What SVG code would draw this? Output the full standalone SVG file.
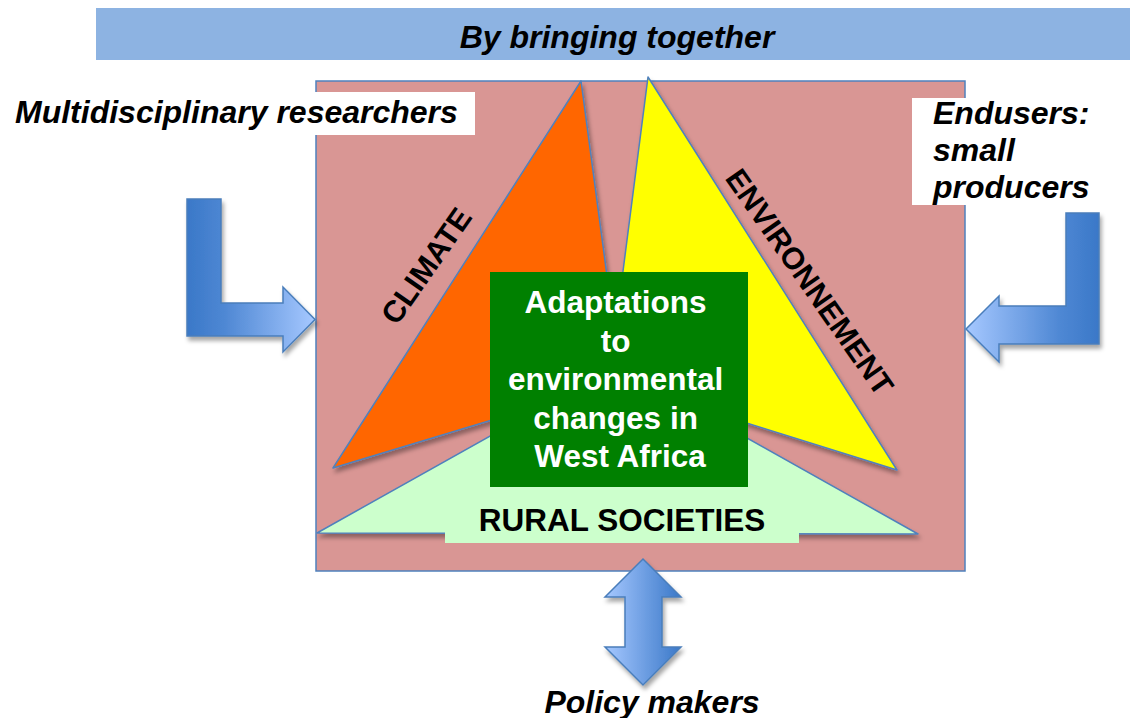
<svg xmlns="http://www.w3.org/2000/svg" width="1130" height="718" viewBox="0 0 1130 718">
<style>
.lbl{font-family:"Liberation Sans",Arial,sans-serif;font-weight:bold;font-style:italic;font-size:32px;fill:#000}
.cap{font-family:"Liberation Sans",Arial,sans-serif;font-weight:bold;font-size:30.5px;fill:#000}
.ctr{font-family:"Liberation Sans",Arial,sans-serif;font-weight:bold;font-size:31.5px;fill:#fff}
.tri{stroke:#4f81bd;stroke-width:1.5;stroke-linejoin:round}
.arr{stroke:#4a7ebb;stroke-width:1.5;stroke-linejoin:miter}
</style>
<defs>
<filter id="sh" x="-10%" y="-10%" width="130%" height="130%">
<feDropShadow dx="2" dy="4" stdDeviation="2" flood-color="#000" flood-opacity="0.35"/>
</filter>
<linearGradient id="gL" x1="0" y1="0" x2="1" y2="0">
<stop offset="0" stop-color="#3a78c8"/><stop offset="0.3" stop-color="#4f88d4"/><stop offset="1" stop-color="#a6c8ff"/>
</linearGradient>
<linearGradient id="gR" x1="1" y1="0" x2="0" y2="0">
<stop offset="0" stop-color="#3a78c8"/><stop offset="0.3" stop-color="#4f88d4"/><stop offset="1" stop-color="#a6c8ff"/>
</linearGradient>
<linearGradient id="gB" x1="0" y1="0" x2="1" y2="0">
<stop offset="0" stop-color="#a6c8ff"/><stop offset="1" stop-color="#3a78c8"/>
</linearGradient>
</defs>

<g id="banner">
<rect x="96" y="8" width="1034" height="52" fill="#8db3e2"/>
<text class="lbl" x="617" y="48" text-anchor="middle">By bringing together</text>
</g>

<g id="frame">
<rect x="316" y="81" width="649" height="490" fill="#d99694" stroke="#4f81bd" stroke-width="1.5"/>
</g>

<g id="climate">
<polygon class="tri" points="581,81 333,468 621,381" fill="#ff6600" filter="url(#sh)"/>
<text class="cap" transform="translate(435,272) rotate(-55)" text-anchor="middle">CLIMATE</text>
</g>

<g id="environnement">
<polygon class="tri" points="648,77 897,470 609,380" fill="#ffff00" filter="url(#sh)"/>
<text class="cap" transform="translate(801,288) rotate(55)" text-anchor="middle">ENVIRONNEMENT</text>
</g>

<g id="rural">
<polygon class="tri" points="317,533 617,365 918,534" fill="#ccffcc" filter="url(#sh)"/>
<rect x="445" y="497" width="354" height="46" fill="#ccffcc"/>
<text class="cap" x="622" y="531" text-anchor="middle" style="font-size:31.5px">RURAL SOCIETIES</text>
</g>

<g id="center">
<rect x="490" y="272" width="258" height="215" fill="#008000"/>
<text class="ctr" text-anchor="middle">
<tspan x="620" y="313">Adaptations</tspan>
<tspan x="620" y="351.5">to</tspan>
<tspan x="620" y="390">environmental</tspan>
<tspan x="620" y="428.5">changes in</tspan>
<tspan x="620" y="467">West Africa</tspan>
</text>
</g>

<g id="researchers">
<rect x="8" y="92" width="467" height="43" fill="#fff"/>
<text class="lbl" x="15" y="123">Multidisciplinary researchers</text>
</g>

<g id="endusers">
<rect x="912" y="98" width="190" height="107" fill="#fff"/>
<text class="lbl"><tspan x="933" y="124">Endusers:</tspan><tspan x="933" y="161">small</tspan><tspan x="933" y="198">producers</tspan></text>
</g>

<g id="policy">
<text class="lbl" x="652" y="713" text-anchor="middle">Policy makers</text>
</g>

<g id="connectors">
<path class="arr" d="M187,199 L221,199 L221,303 L283,303 L283,287 L315,319.5 L283,352 L283,336 L187,336 Z" fill="url(#gL)" filter="url(#sh)"/>
<path class="arr" d="M1099,213 L1099,344 L999,344 L999,362 L966,329 L999,296 L999,306 L1066,306 L1066,213 Z" fill="url(#gR)" filter="url(#sh)"/>
<path class="arr" d="M643,559 L681,597 L662,597 L662,647 L681,647 L643,685 L605,647 L625,647 L625,597 L605,597 Z" fill="url(#gB)" filter="url(#sh)"/>
</g>
</svg>
